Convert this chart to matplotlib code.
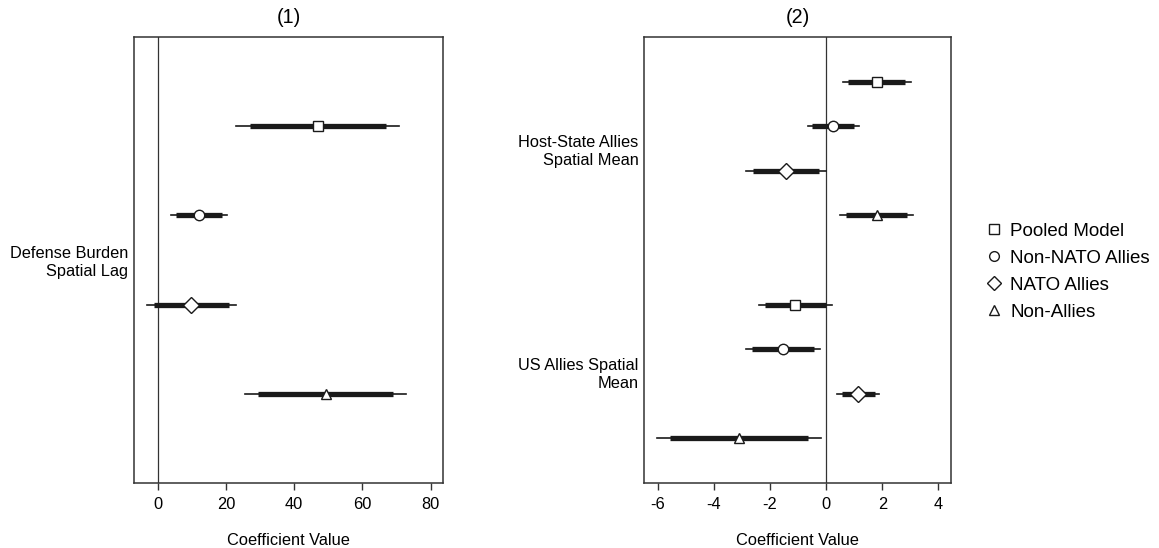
import numpy as np
import matplotlib
matplotlib.use('Agg')
import matplotlib.pyplot as plt
from matplotlib.lines import Line2D

plt.rc('font', family='Liberation Sans')
plt.rcParams.update({'font.size': 11.8})
plt.rcParams['axes.unicode_minus'] = False

# legend / series
models = ['Pooled Model', 'Non-NATO Allies', 'NATO Allies', 'Non-Allies']
markers = ['s', 'o', 'D', '^']

# panel (1): Defense Burden Spatial Lag
p1_coef = [46.9, 12.0, 9.8, 49.2]
p1_lo90 = [27.0, 5.3, -1.1, 29.5]
p1_hi90 = [66.9, 18.9, 20.8, 69.0]
p1_lo95 = [23.1, 4.0, -3.2, 25.6]
p1_hi95 = [70.6, 20.2, 22.9, 72.8]

# panel (2): Host-State Allies Spatial Mean, then US Allies Spatial Mean
p2_coef = [1.80, 0.24, -1.42, 1.80, -1.10, -1.54, 1.15, -3.09]
p2_lo90 = [0.79, -0.51, -2.61, 0.70, -2.17, -2.64, 0.56, -5.55]
p2_hi90 = [2.81, 1.01, -0.24, 2.87, -0.01, -0.42, 1.74, -0.63]
p2_lo95 = [0.59, -0.66, -2.86, 0.50, -2.38, -2.86, 0.39, -6.03]
p2_hi95 = [3.02, 1.16, 0.00, 3.08, 0.20, -0.21, 1.90, -0.18]

p1_labels = ['Defense Burden\nSpatial Lag']
p2_labels = ['Host-State Allies\nSpatial Mean', 'US Allies Spatial\nMean']


def draw(ax, ypos, coef, lo90, hi90, lo95, hi95, mk):
    for i in range(len(coef)):
        ax.plot([lo95[i], hi95[i]], [ypos[i], ypos[i]], '-', c='#1a1a1a', lw=1.2, zorder=2)
        ax.plot([lo90[i], hi90[i]], [ypos[i], ypos[i]], '-', c='#1a1a1a', lw=3.8, solid_capstyle='butt', zorder=3)
        ms = 7.5 if mk[i] != 'D' else 8
        ax.plot(coef[i], ypos[i], mk[i], mfc='w', mec='#1a1a1a', mew=1.0, ms=ms, zorder=4)
    ax.axvline(0, c='#333333', lw=0.9, zorder=1)


def style(ax):
    ax.tick_params(axis='x', length=5, width=1, direction='out', pad=5, color='#333333')
    ax.tick_params(axis='y', length=0, pad=4)
    for d in ['top', 'bottom', 'left', 'right']:
        ax.spines[d].set_linewidth(1.1)
        ax.spines[d].set_color('#333333')
    ax.set_xlabel('Coefficient Value', labelpad=15)
    for t in ax.get_yticklabels():
        t.set_linespacing(1.25)


fig = plt.figure(figsize=[11.59, 5.48], dpi=100)

ax1 = plt.axes([0.1156, 0.1186, 0.2666, 0.8139])
draw(ax1, [1, 2, 3, 4], p1_coef, p1_lo90, p1_hi90, p1_lo95, p1_hi95, markers)
ax1.set_xlim(-6.9, 83.6)
ax1.set_ylim(5, 0)
ax1.set_xticks([0, 20, 40, 60, 80])
ax1.set_yticks([2.5])
ax1.set_yticklabels(p1_labels)
ax1.set_title('(1)', pad=10)
style(ax1)

ax2 = plt.axes([0.5557, 0.1186, 0.2649, 0.8139])
draw(ax2, [1, 2, 3, 4, 6, 7, 8, 9], p2_coef, p2_lo90, p2_hi90, p2_lo95, p2_hi95, markers * 2)
ax2.set_xlim(-6.48, 4.45)
ax2.set_ylim(10, 0)
ax2.set_xticks([-6, -4, -2, 0, 2, 4])
ax2.set_yticks([2.5, 7.5])
ax2.set_yticklabels(p2_labels)
ax2.set_title('(2)', pad=10)
style(ax2)

handles = [Line2D([], [], ls='none', marker=m, mfc='w', mec='#1a1a1a', mew=1.0,
                  ms=(7 if m != 'D' else 7.5)) for m in markers]
fig.legend(handles, models, loc='center left', bbox_to_anchor=(0.837, 0.504),
           frameon=False, handlelength=0.8, handletextpad=0.45, labelspacing=0.52,
           fontsize=13.5)

plt.savefig('out.png', dpi=100)
plt.close()
